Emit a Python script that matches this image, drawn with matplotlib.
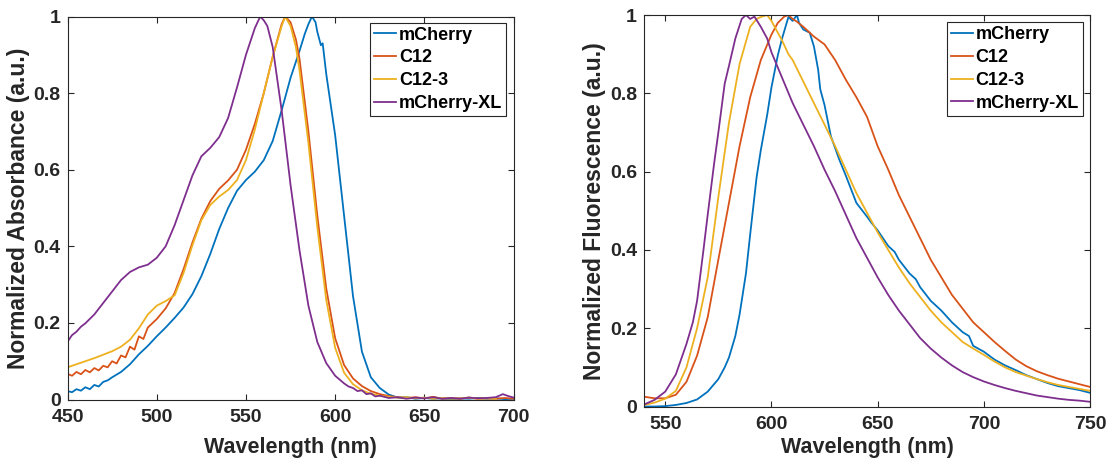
import matplotlib
matplotlib.use("Agg")
import matplotlib.pyplot as plt

plt.rcParams["font.family"] = ["Liberation Sans", "DejaVu Sans"]
plt.rcParams["font.weight"] = "bold"

# MATLAB default line colours
COLORS = ["#0072BD", "#D95319", "#EDB120", "#7E2F8E"]
NAMES = ["mCherry", "C12", "C12-3", "mCherry-XL"]

# ---- Absorbance (left) ----
abs_wl_mcherry = [450, 452.5, 455, 457.5, 460, 462.5, 465, 467.5, 470, 472.5, 475, 480, 485,
                  490, 495, 500, 505, 510, 515, 520, 525, 530, 535, 540, 545, 550, 555, 560,
                  565, 570, 575, 580, 583, 585, 587, 589, 590, 592, 593, 595, 600, 605, 610,
                  615, 620, 625, 630, 635, 640, 645, 650, 655, 660, 665, 670, 675, 680, 685,
                  690, 695, 700]
abs_mcherry = [0.022, 0.019, 0.027, 0.023, 0.032, 0.027, 0.038, 0.034, 0.046, 0.050, 0.058,
               0.072, 0.092, 0.118, 0.140, 0.165, 0.188, 0.213, 0.240, 0.275, 0.322, 0.380,
               0.445, 0.500, 0.545, 0.573, 0.595, 0.625, 0.675, 0.755, 0.840, 0.910, 0.955,
               0.980, 1.000, 0.985, 0.960, 0.925, 0.930, 0.850, 0.690, 0.480, 0.270, 0.125,
               0.058, 0.030, 0.013, 0.005, 0.006, 0.002, 0.004, 0.002, 0.003, 0.001, 0.003,
               0.002, 0.004, 0.002, 0.003, 0.001, 0.002]

abs_wl_c12 = [450, 452.5, 455, 457.5, 460, 462.5, 465, 467.5, 470, 472.5, 475, 477.5, 480,
              482.5, 485, 487.5, 490, 492.5, 495, 500, 505, 510, 515, 520, 525, 530, 535,
              540, 545, 550, 555, 560, 565, 570, 572, 575, 578, 580, 585, 590, 595, 600,
              605, 610, 615, 620, 625, 630, 635, 640, 645, 650, 655, 660, 665, 670, 675,
              680, 685, 690, 695, 700]
abs_c12 = [0.067, 0.062, 0.072, 0.066, 0.077, 0.071, 0.082, 0.076, 0.088, 0.084, 0.100,
           0.094, 0.115, 0.110, 0.138, 0.130, 0.165, 0.158, 0.188, 0.210, 0.238, 0.278,
           0.340, 0.410, 0.472, 0.518, 0.550, 0.572, 0.600, 0.652, 0.720, 0.800, 0.895,
           0.980, 1.000, 0.985, 0.940, 0.890, 0.700, 0.480, 0.290, 0.160, 0.090, 0.055,
           0.035, 0.022, 0.014, 0.009, 0.006, 0.004, 0.006, 0.003, 0.007, 0.002, 0.004,
           0.002, 0.005, 0.002, 0.003, 0.002, 0.004, 0.002]

abs_wl_c123 = [450, 455, 460, 465, 470, 475, 480, 485, 490, 495, 500, 505, 510, 515, 520,
               525, 530, 535, 540, 545, 550, 555, 560, 565, 570, 572, 575, 578, 580, 585,
               590, 595, 600, 605, 610, 615, 620, 625, 630, 635, 640, 645, 650, 655, 660,
               665, 670, 675, 680, 685, 690]
abs_c123 = [0.084, 0.092, 0.100, 0.108, 0.117, 0.126, 0.138, 0.156, 0.186, 0.222, 0.245,
            0.257, 0.272, 0.330, 0.403, 0.468, 0.508, 0.530, 0.547, 0.573, 0.625, 0.705,
            0.800, 0.895, 0.975, 1.000, 0.975, 0.920, 0.860, 0.670, 0.450, 0.260, 0.135,
            0.070, 0.040, 0.024, 0.015, 0.010, 0.007, 0.005, 0.006, 0.003, 0.005, 0.002,
            0.004, 0.002, 0.003, 0.005, 0.002, 0.003, 0.002]

abs_wl_xl = [450, 452.5, 455, 457.5, 460, 465, 470, 475, 480, 485, 490, 495, 500, 505, 510,
             515, 520, 525, 530, 535, 540, 545, 550, 555, 558, 560, 562, 565, 570, 575,
             580, 585, 590, 595, 600, 605, 607.5, 610, 612.5, 615, 617.5, 620, 622.5, 625,
             630, 635, 640, 645, 650, 655, 660, 665, 670, 675, 680, 685, 690, 692.5, 694,
             697, 700]
abs_xl = [0.151, 0.168, 0.177, 0.190, 0.199, 0.222, 0.252, 0.282, 0.312, 0.333, 0.345,
          0.352, 0.370, 0.400, 0.455, 0.520, 0.585, 0.635, 0.657, 0.685, 0.735, 0.815,
          0.900, 0.970, 1.000, 0.990, 0.975, 0.920, 0.755, 0.560, 0.390, 0.245, 0.150,
          0.095, 0.062, 0.042, 0.034, 0.030, 0.022, 0.024, 0.014, 0.016, 0.008, 0.010,
          0.004, 0.006, 0.002, 0.005, 0.003, 0.006, 0.002, 0.004, 0.002, 0.005, 0.003,
          0.004, 0.006, 0.011, 0.014, 0.009, 0.005]

# ---- Fluorescence (right) ----
fl_wl_mcherry = [540, 545, 550, 555, 560, 565, 570, 575, 578, 580, 583, 585, 588, 590, 593,
                 595, 598, 600, 603, 605, 608, 610, 612, 613, 615, 618, 620, 622, 623, 625,
                 628, 630, 632, 635, 640, 645, 647, 650, 655, 658, 660, 665, 668, 670, 675,
                 680, 685, 690, 693, 695, 700, 705, 710, 715, 720, 725, 730, 735, 740, 745,
                 750]
fl_mcherry = [0.000, 0.000, 0.001, 0.004, 0.009, 0.018, 0.038, 0.070, 0.100, 0.125, 0.180,
              0.235, 0.340, 0.440, 0.585, 0.655, 0.745, 0.815, 0.897, 0.940, 0.995, 0.985,
              1.000, 0.980, 0.963, 0.955, 0.920, 0.860, 0.810, 0.770, 0.690, 0.660, 0.630,
              0.590, 0.520, 0.485, 0.470, 0.450, 0.410, 0.395, 0.375, 0.340, 0.325, 0.305,
              0.270, 0.245, 0.215, 0.190, 0.180, 0.155, 0.140, 0.120, 0.105, 0.093, 0.080,
              0.070, 0.060, 0.052, 0.047, 0.042, 0.035]

fl_wl_c12 = [540, 545, 550, 555, 560, 565, 570, 575, 580, 585, 590, 595, 600, 603, 606, 608,
             610, 612, 615, 618, 620, 625, 630, 635, 640, 645, 650, 655, 660, 665, 670, 675,
             680, 685, 690, 695, 700, 705, 710, 715, 720, 725, 730, 735, 740, 745, 750]
fl_c12 = [0.025, 0.021, 0.021, 0.030, 0.063, 0.130, 0.228, 0.375, 0.520, 0.665, 0.790,
          0.885, 0.950, 0.980, 0.996, 1.000, 0.990, 0.983, 0.970, 0.955, 0.945, 0.925,
          0.885, 0.835, 0.790, 0.740, 0.665, 0.605, 0.540, 0.485, 0.430, 0.375, 0.330,
          0.285, 0.250, 0.215, 0.190, 0.165, 0.142, 0.120, 0.103, 0.090, 0.080, 0.071,
          0.064, 0.057, 0.050]

fl_wl_c123 = [540, 545, 550, 555, 560, 565, 570, 575, 580, 585, 590, 593, 595, 598, 600, 603,
              605, 608, 610, 615, 620, 625, 630, 635, 640, 645, 650, 655, 660, 665, 670, 675,
              680, 685, 690, 695, 700, 705, 710, 715, 720, 725, 730, 735, 740, 745, 750]
fl_c123 = [0.004, 0.010, 0.020, 0.040, 0.100, 0.200, 0.330, 0.535, 0.725, 0.875, 0.970,
           0.990, 0.995, 1.000, 0.985, 0.955, 0.935, 0.900, 0.885, 0.830, 0.775, 0.720,
           0.665, 0.605, 0.545, 0.495, 0.445, 0.400, 0.355, 0.315, 0.280, 0.245, 0.215,
           0.190, 0.165, 0.148, 0.132, 0.115, 0.100, 0.088, 0.079, 0.070, 0.062, 0.055,
           0.050, 0.045, 0.040]

fl_wl_xl = [540, 545, 550, 555, 560, 563, 565, 568, 570, 573, 575, 578, 580, 583, 586, 588,
            590, 592, 595, 598, 600, 605, 610, 615, 620, 625, 630, 635, 640, 645, 650, 655,
            660, 665, 670, 675, 680, 685, 690, 695, 700, 705, 710, 715, 720, 725, 730, 735,
            740, 745, 750]
fl_xl = [0.005, 0.017, 0.038, 0.082, 0.160, 0.215, 0.270, 0.400, 0.490, 0.620, 0.700,
         0.825, 0.870, 0.940, 0.990, 1.000, 0.990, 0.996, 0.970, 0.940, 0.905, 0.840,
         0.775, 0.720, 0.665, 0.605, 0.550, 0.490, 0.430, 0.380, 0.330, 0.285, 0.245,
         0.210, 0.175, 0.148, 0.125, 0.105, 0.088, 0.075, 0.064, 0.055, 0.047, 0.040,
         0.034, 0.028, 0.024, 0.020, 0.017, 0.015, 0.012]

y_ticks = [0, 0.2, 0.4, 0.6, 0.8, 1]
y_tick_labels = ["0", "0.2", "0.4", "0.6", "0.8", "1"]
abs_x_ticks = [450, 500, 550, 600, 650, 700]
fl_x_ticks = [550, 600, 650, 700, 750]

INK = "#262626"

fig = plt.figure(figsize=(11.09, 4.61), dpi=100)
fig.set_facecolor("white")

ax1 = fig.add_axes([0.0609, 0.1334, 0.4022, 0.8308])
ax2 = fig.add_axes([0.5807, 0.1182, 0.4022, 0.8492])

abs_series = [(abs_wl_mcherry, abs_mcherry), (abs_wl_c12, abs_c12),
              (abs_wl_c123, abs_c123), (abs_wl_xl, abs_xl)]
fl_series = [(fl_wl_mcherry, fl_mcherry), (fl_wl_c12, fl_c12),
             (fl_wl_c123, fl_c123), (fl_wl_xl, fl_xl)]

for ax, series in ((ax1, abs_series), (ax2, fl_series)):
    for (wl, val), col, name in zip(series, COLORS, NAMES):
        ax.plot(wl, val, color=col, lw=1.3, label=name)

ax1.set_xlim(450, 700)
ax1.set_xticks(abs_x_ticks)
ax2.set_xlim(540, 750)
ax2.set_xticks(fl_x_ticks)

for ax in (ax1, ax2):
    ax.set_ylim(0, 1)
    ax.set_yticks(y_ticks)
    ax.set_yticklabels(y_tick_labels)
    ax.tick_params(direction="in", top=True, right=True, length=4, width=0.8,
                   colors=INK, labelsize=14)
    ax.tick_params(axis="x", pad=7)
    ax.tick_params(axis="y", pad=5)
    for sp in ax.spines.values():
        sp.set_color(INK)
        sp.set_linewidth(0.8)
    for lab in ax.get_xticklabels() + ax.get_yticklabels():
        lab.set_fontweight("bold")
    ax.set_xlabel("Wavelength (nm)", fontsize=15.5, fontweight="bold", color=INK)

ax1.set_ylabel("Normalized Absorbance (a.u.)", fontsize=16.5, fontweight="bold", color=INK)
ax2.set_ylabel("Normalized Fluorescence (a.u.)", fontsize=16.5, fontweight="bold", color=INK)

ax1.xaxis.set_label_coords(0.5, -0.098)
ax2.xaxis.set_label_coords(0.5, -0.078)
ax1.yaxis.set_label_coords(-0.084, 0.5)
ax2.yaxis.set_label_coords(-0.085, 0.5)

for ax, anchor in ((ax1, (0.983, 0.984)), (ax2, (0.984, 0.981))):
    leg = ax.legend(loc="upper right", bbox_to_anchor=anchor, borderaxespad=0,
                    fontsize=13, handlelength=1.2, handletextpad=0.15,
                    labelspacing=0.32, borderpad=0.22, fancybox=False,
                    framealpha=1, edgecolor=INK)
    leg.get_frame().set_linewidth(0.8)
    for t in leg.get_texts():
        t.set_fontweight("bold")
        t.set_color("black")

fig.savefig("out.png", dpi=100)
